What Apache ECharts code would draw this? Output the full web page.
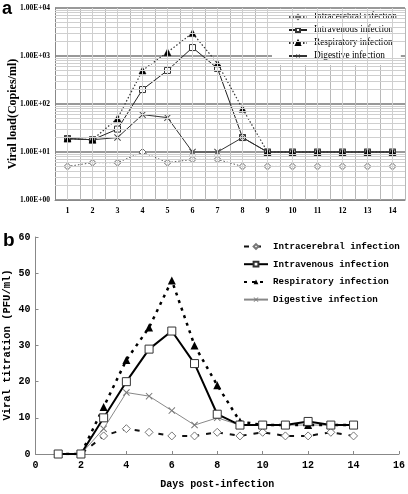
<!DOCTYPE html>
<html>
<head>
<meta charset="utf-8">
<script src="https://cdn.jsdelivr.net/npm/echarts@6/dist/echarts.min.js"></script>
<style>
html,body{margin:0;padding:0;background:#fff;}
#ca{position:absolute;left:0;top:0;width:408px;height:228px;}
#cb{position:absolute;left:0;top:228px;width:408px;height:266px;}
</style>
</head>
<body>
<div id="ca"></div>
<div id="cb"></div>
<script>
// ---------- Panel a data ----------
const seriesNames = ['Intracerebral infection', 'Intravenous infection', 'Respiratory infection', 'Digestive infection'];
const aDays = ['1','2','3','4','5','6','7','8','9','10','11','12','13','14'];
const aIntracerebral = [5, 6, 6, 10, 6, 7, 7, 5, 5, 5, 5, 5, 5, 5];
const aIntravenous = [19, 18, 30, 200, 500, 1500, 550, 20, 10, 10, 10, 10, 10, 10];
const aRespiratory = [19, 18, 50, 500, 1200, 3000, 700, 80, 10, 10, 10, 10, 10, 10];
const aDigestive = [19, 18, 20, 60, 52, 10, 10, 20, 10, 10, 10, 10, 10, 10];
const aTickLabels = ['1.00E+00', '1.00E+01', '1.00E+02', '1.00E+03', '1.00E+04'];

// ---------- Panel b data ----------
const bDays = [1, 2, 3, 4, 5, 6, 7, 8, 9, 10, 11, 12, 13, 14];
const bIntracerebral = [0, 0, 5, 7, 6, 5, 5, 6, 5, 6, 5, 5, 6, 5];
const bIntravenous = [0, 0, 10, 20, 29, 34, 25, 11, 8, 8, 8, 9, 8, 8];
const bRespiratory = [0, 0, 13, 26, 35, 48, 30, 19, 9, 8, 8, 8, 8, 8];
const bDigestive = [0, 0, 7, 17, 16, 12, 8, 10, 8, 8, 8, 8, 8, 8];

const xPath = 'path://M0,1L1,0L5,4L9,0L10,1L6,5L10,9L9,10L5,6L1,10L0,9L4,5Z';

// minor log gridlines (2..9 within each decade)
const minorLines = [];
for (let k = 0; k < 4; k++) {
  for (let m = 2; m <= 9; m++) minorLines.push({ yAxis: m * Math.pow(10, k) });
}
const centerLines = aDays.map(d => ({ xAxis: d }));

const chartA = echarts.init(document.getElementById('ca'), null, { renderer: 'canvas' });
const serif = 'Liberation Serif';
chartA.setOption({
  animation: false,
  backgroundColor: '#fff',
  grid: { left: 55, right: 3, top: 8, height: 192 },
  legend: {
    orient: 'vertical', left: 272, top: 9,
    backgroundColor: '#fff',
    padding: [3, 4, 4, 16],
    itemWidth: 18, itemHeight: 5, itemGap: 3,
    textStyle: { fontFamily: serif, fontSize: 9.3, color: '#000', lineHeight: 10, padding: [0, 0, 0, 2] },
    data: seriesNames
  },
  xAxis: {
    type: 'category', data: aDays, boundaryGap: true,
    axisLine: { lineStyle: { color: '#888', width: 1 } },
    axisTick: { show: false },
    axisLabel: { fontFamily: serif, fontWeight: 'bold', fontSize: 8, color: '#000', margin: 7 },
    splitLine: { show: true, lineStyle: { color: '#b8b8b8', width: 1 } }
  },
  yAxis: {
    type: 'log', logBase: 10, min: 1, max: 10000,
    axisLine: { show: true, lineStyle: { color: '#888', width: 1 } },
    axisTick: { show: false },
    axisLabel: {
      fontFamily: serif, fontWeight: 'bold', fontSize: 7.5, color: '#000', margin: 5,
      formatter: v => aTickLabels[Math.round(Math.log10(v))]
    },
    splitLine: { show: true, lineStyle: { color: '#777', width: 1.5 } }
  },
  graphic: [
    { type: 'text', left: 2, top: 0, style: { text: 'a', font: 'bold 18px "Liberation Sans"', fill: '#000' } },
    { type: 'text', x: 13, y: 114, rotation: Math.PI / 2,
      style: { text: 'Viral load(Copies/ml)', font: 'bold 12px "Liberation Serif"', fill: '#000', align: 'center', verticalAlign: 'middle' } }
  ],
  series: [
    {
      type: 'line', name: '_grid', data: [], z: 1, silent: true,
      markLine: {
        silent: true, symbol: ['none', 'none'], label: { show: false },
        lineStyle: { color: '#cfcfcf', width: 1, type: 'solid' },
        data: minorLines.concat(centerLines)
      }
    },
    {
      type: 'line', name: seriesNames[0], data: aIntracerebral, z: 3,
      symbol: 'diamond', symbolSize: 7,
      lineStyle: { color: '#555', width: 1, type: [1.5, 2] },
      itemStyle: { color: '#fff', borderColor: '#666', borderWidth: 1 }
    },
    {
      type: 'line', name: seriesNames[1], data: aIntravenous, z: 3,
      symbol: 'rect', symbolSize: 6,
      lineStyle: { color: '#222', width: 1 },
      itemStyle: { color: '#fff', borderColor: '#333', borderWidth: 1 }
    },
    {
      type: 'line', name: seriesNames[2], data: aRespiratory, z: 4,
      symbol: 'triangle', symbolSize: 7,
      lineStyle: { color: '#333', width: 1.2, type: [1.5, 2] },
      itemStyle: { color: '#000', borderColor: '#000', borderWidth: 0.5 }
    },
    {
      type: 'line', name: seriesNames[3], data: aDigestive, z: 3,
      symbol: xPath, symbolSize: 7,
      lineStyle: { color: '#333', width: 1 },
      itemStyle: { color: '#444' }
    }
  ]
});

const chartB = echarts.init(document.getElementById('cb'), null, { renderer: 'canvas' });
const mono = 'Liberation Mono';
const pairs = arr => bDays.map((d, i) => [d, arr[i]]);
chartB.setOption({
  animation: false,
  backgroundColor: '#fff',
  grid: { left: 35.5, right: 6, top: 9, height: 222 },
  legend: {
    orient: 'vertical', left: 243, top: 13, padding: 0,
    itemWidth: 24, itemHeight: 6, itemGap: 6.7,
    textStyle: { fontFamily: mono, fontWeight: 'bold', fontSize: 9.2, color: '#000', lineHeight: 11 },
    data: seriesNames
  },
  xAxis: {
    type: 'value', min: 0, max: 16, interval: 2,
    axisLine: { show: true, onZero: false, lineStyle: { color: '#888', width: 1 } },
    axisTick: { show: true, inside: true, length: 3, lineStyle: { color: '#888' } },
    axisLabel: { fontFamily: mono, fontWeight: 'bold', fontSize: 10, color: '#000', margin: 6 },
    splitLine: { show: false },
    name: 'Days post-infection', nameLocation: 'middle', nameGap: 25,
    nameTextStyle: { fontFamily: mono, fontWeight: 'bold', fontSize: 10, color: '#000' }
  },
  yAxis: {
    type: 'value', min: 0, max: 60, interval: 10,
    axisLine: { show: true, lineStyle: { color: '#888', width: 1 } },
    axisTick: { show: true, inside: true, length: 3, lineStyle: { color: '#888' } },
    axisLabel: { fontFamily: mono, fontWeight: 'bold', fontSize: 10, color: '#000', margin: 5 },
    splitLine: { show: false }
  },
  graphic: [
    { type: 'text', left: 3, top: 3, style: { text: 'b', font: 'bold 19px "Liberation Sans"', fill: '#000' } },
    { type: 'text', x: 7, y: 117, rotation: Math.PI / 2,
      style: { text: 'Viral titration (PFU/ml)', font: 'bold 10.5px "Liberation Mono"', fill: '#000', align: 'center', verticalAlign: 'middle' } }
  ],
  series: [
    {
      type: 'line', name: seriesNames[0], data: pairs(bIntracerebral), z: 3,
      symbol: 'diamond', symbolSize: 8,
      lineStyle: { color: '#111', width: 2, type: [5, 7] },
      itemStyle: { color: '#fff', borderColor: '#777', borderWidth: 1 }
    },
    {
      type: 'line', name: seriesNames[1], data: pairs(bIntravenous), z: 4,
      symbol: 'rect', symbolSize: 8,
      lineStyle: { color: '#000', width: 2 },
      itemStyle: { color: '#fff', borderColor: '#333', borderWidth: 1 }
    },
    {
      type: 'line', name: seriesNames[2], data: pairs(bRespiratory), z: 3,
      symbol: 'triangle', symbolSize: 8,
      lineStyle: { color: '#000', width: 2.5, type: [3, 5] },
      itemStyle: { color: '#000' }
    },
    {
      type: 'line', name: seriesNames[3], data: pairs(bDigestive), z: 2,
      symbol: xPath, symbolSize: 7,
      lineStyle: { color: '#888', width: 1 },
      itemStyle: { color: '#777' }
    }
  ]
});
</script>
</body>
</html>
